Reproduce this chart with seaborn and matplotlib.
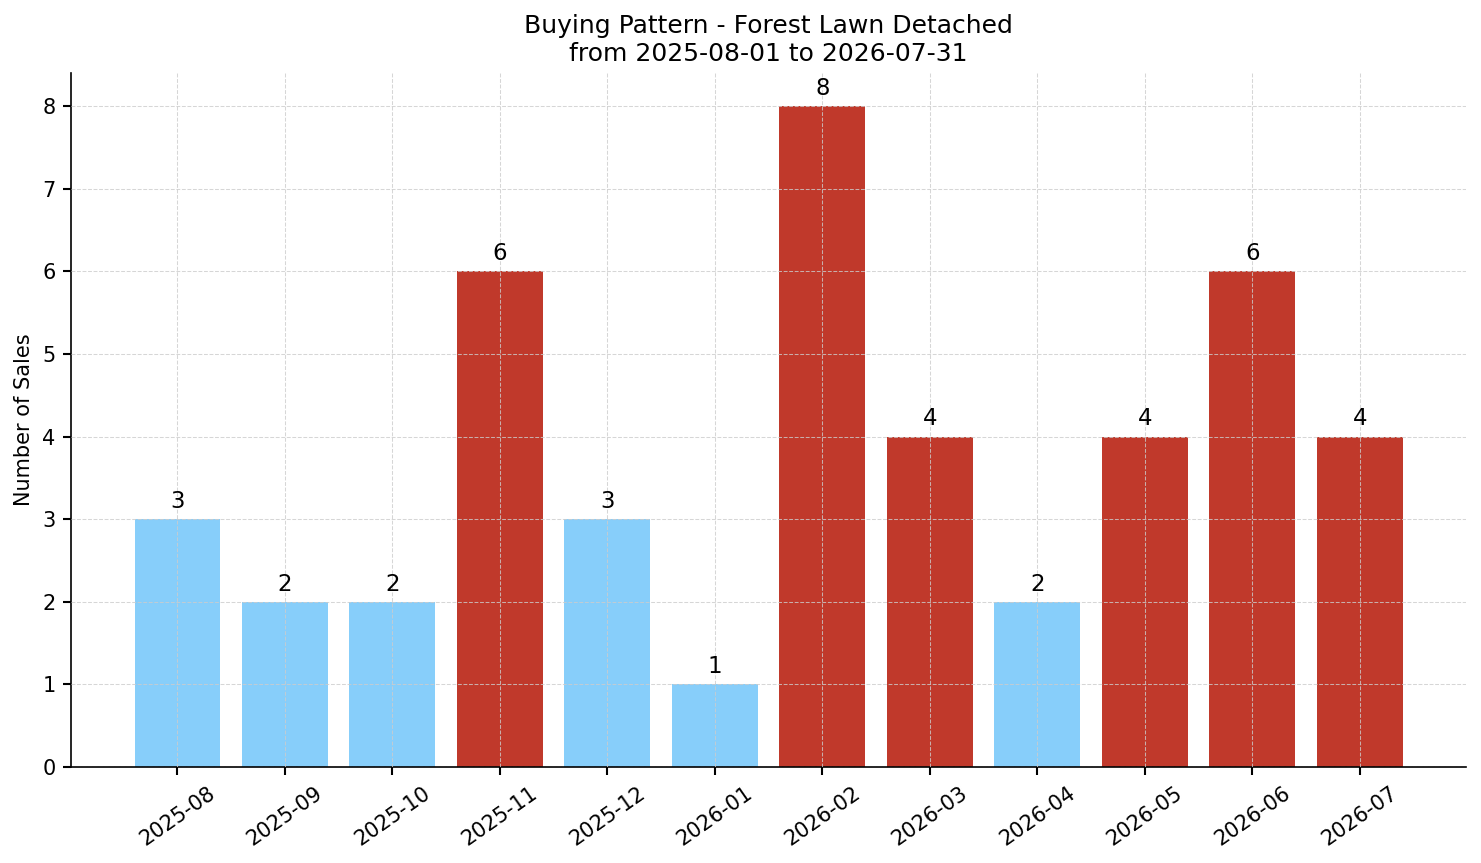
import matplotlib
matplotlib.use('Agg')
import matplotlib.pyplot as plt
import seaborn as sns
import pandas as pd

# Dane
months = ['2025-08', '2025-09', '2025-10', '2025-11', '2025-12', '2026-01',
          '2026-02', '2026-03', '2026-04', '2026-05', '2026-06', '2026-07']
sales = [3, 2, 2, 6, 3, 1, 8, 4, 2, 4, 6, 4]
high = [False, False, False, True, False, False, True, True, False, True, True, True]

df = pd.DataFrame({'Month': months, 'Sales': sales, 'High': high})

sns.set_style('white')
plt.rcParams['font.family'] = ['DejaVu Sans']
plt.rcParams.update({'text.color': 'black', 'axes.labelcolor': 'black',
                     'xtick.color': 'black', 'ytick.color': 'black',
                     'axes.edgecolor': 'black'})

fig, ax = plt.subplots(figsize=(1481 / 150, 863 / 150), dpi=150)
sns.barplot(data=df, x='Month', y='Sales', hue='High',
            palette={False: '#87CEFA', True: '#C0392B'},
            dodge=False, width=0.8, legend=False, saturation=1,
            linewidth=0, ax=ax)

# Etykiety wartości nad słupkami
for cont in ax.containers:
    ax.bar_label(cont, fmt='%d', padding=3, fontsize=11, color='black')

n = len(months)
ax.set_xlim(-0.4 - 0.05 * (n - 0.2), n - 0.6 + 0.05 * (n - 0.2))
ax.set_ylim(0, max(sales) * 1.05)

ax.set_title('Buying Pattern - Forest Lawn Detached\nfrom 2025-08-01 to 2026-07-31', fontsize=12)
ax.set_xlabel('')
ax.set_ylabel('Number of Sales', fontsize=10)
ax.tick_params(axis='x', rotation=35, labelsize=10, length=4, width=1, bottom=True)
ax.tick_params(axis='y', labelsize=10, length=4, width=1, left=True)
ax.grid(True, linestyle='--', linewidth=0.5, alpha=0.8, color='#cccccc')
ax.set_axisbelow(False)
sns.despine(ax=ax)

plt.subplots_adjust(left=0.048, right=0.99, top=0.9154, bottom=0.1112)
plt.savefig('out.png', dpi=150)
plt.close()
